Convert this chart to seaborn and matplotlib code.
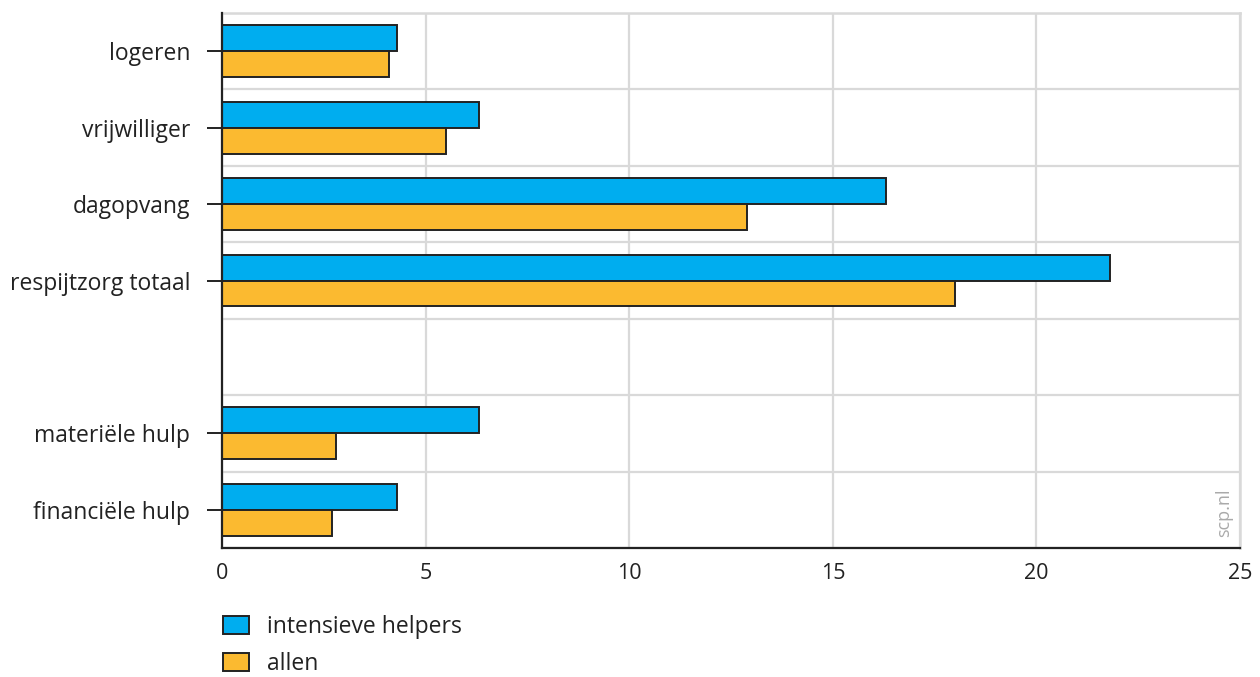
import matplotlib
matplotlib.use("Agg")
import matplotlib.pyplot as plt
import seaborn as sns
import pandas as pd
import numpy as np

categories = ["logeren", "vrijwilliger", "dagopvang", "respijtzorg totaal", "",
              "materiële hulp", "financiële hulp"]
intensieve = [4.3, 6.3, 16.3, 21.8, np.nan, 6.3, 4.3]
allen = [4.1, 5.5, 12.9, 18.0, np.nan, 2.8, 2.7]
series_names = ["intensieve helpers", "allen"]
xticks = [0, 5, 10, 15, 20, 25]

BLUE = "#00adef"
ORANGE = "#fbba30"
GRID = "#d9d9d9"
DARK = "#222222"

sns.set_theme(style="white")
plt.rcParams["font.family"] = ["Open Sans", "DejaVu Sans"]

rows = []
for c, a, b in zip(categories, intensieve, allen):
    rows.append({"cat": c, "serie": series_names[0], "val": a})
    rows.append({"cat": c, "serie": series_names[1], "val": b})
df = pd.DataFrame(rows)

fig = plt.figure(figsize=(12.6, 6.77), dpi=100)
ax = fig.add_axes([222/1260, 1-548/677, (1240-222)/1260, (548-13)/677])

sns.barplot(data=df, y="cat", x="val", hue="serie", order=categories,
            hue_order=series_names, palette=[BLUE, ORANGE], orient="h",
            width=0.68, edgecolor=DARK, linewidth=1.4, ax=ax, zorder=3,
            errorbar=None, saturation=1)

ax.set_xlim(0, 25)
ax.set_ylim(len(categories) - 0.5, -0.5)
ax.set_xticks(xticks)
ax.set_xticklabels([str(t) for t in xticks], fontsize=15.5, color="#222222")
ax.tick_params(axis="x", length=0, pad=11)

pos = [i for i, c in enumerate(categories) if c]
ax.set_yticks(pos)
ax.set_yticklabels([categories[i] for i in pos], fontsize=16.5, color="#222222")
ax.tick_params(axis="y", length=11, width=1.4, color=DARK, pad=12, left=True)
ax.set_yticks(np.arange(-0.5, len(categories), 1.0), minor=True)
ax.tick_params(axis="y", which="minor", length=0)

ax.grid(axis="x", which="major", color=GRID, linewidth=1.6, zorder=0)
ax.grid(axis="y", which="minor", color=GRID, linewidth=1.6, zorder=0)
ax.grid(axis="y", which="major", visible=False)
ax.set_axisbelow(True)

for s in ["left", "bottom"]:
    ax.spines[s].set_color(DARK)
    ax.spines[s].set_linewidth(1.6)
    ax.spines[s].set_zorder(4)
for s in ["top", "right"]:
    ax.spines[s].set_color(GRID)
    ax.spines[s].set_linewidth(1.8)

ax.set_xlabel("")
ax.set_ylabel("")

handles, labels = ax.get_legend_handles_labels()
ax.get_legend().remove()
for h in handles:
    h.set_edgecolor(DARK)
    h.set_linewidth(1.4)
fig.legend(handles, labels, loc="upper left",
           bbox_to_anchor=(214/1260, 1-606/677), frameon=False,
           fontsize=16.5, handlelength=1.13, handleheight=0.83,
           handletextpad=0.8, labelspacing=0.55, borderaxespad=0,
           labelcolor="#222222")

ax.text(0.993, 0.02, "scp.nl", transform=ax.transAxes, rotation=90,
        ha="right", va="bottom", fontsize=13, color="#aaaaaa")

fig.savefig("out.png", dpi=100)
